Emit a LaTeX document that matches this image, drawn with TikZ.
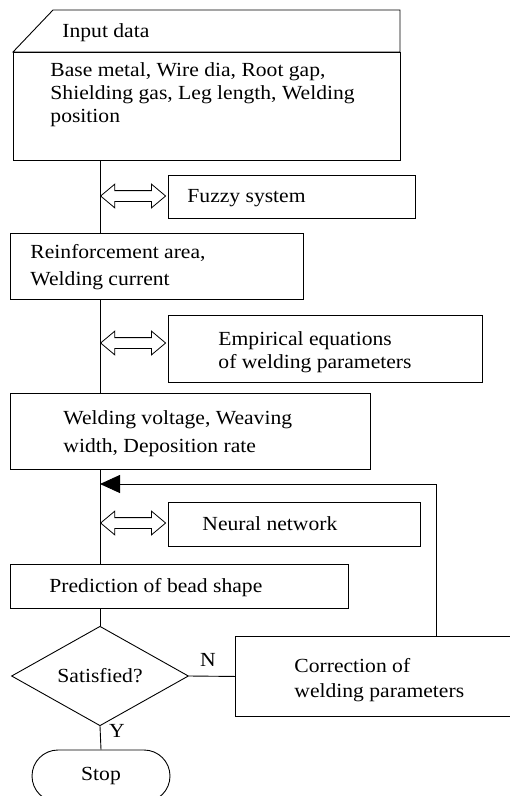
\documentclass[tikz,border=0pt]{standalone}
\usepackage{fontspec}
\setmainfont{Liberation Serif}[FakeStretch=1.08]
\usetikzlibrary{shapes.geometric,shapes.misc,shapes.arrows,arrows.meta}

\begin{document}
\begin{tikzpicture}[x=1pt, y=-1pt, line width=0.9pt,
    font=\fontsize{20}{23}\selectfont,
    box/.style={draw, rectangle, anchor=north west, inner sep=0pt},
    txt/.style={align=left, anchor=base west, inner sep=0pt},
    dbl/.style={draw, double arrow, double arrow tip angle=80,
      double arrow head extend=6.5pt, minimum height=65pt,
      inner xsep=0pt, inner ysep=5pt, anchor=west, line width=0.8pt}]
    \useasboundingbox (0,0) rectangle (510,796);

    % 入力
    \draw (53,10) -- (400,10) -- (400,52) -- (13,52) -- cycle;
    \node[txt] (inhead) at (62,37) {Input data};
    \node[box, minimum width=387pt, minimum height=108pt] (inbody) at (13,52) {};
    \node[txt] (inbodytxt) at (50,122) {Base metal, Wire dia, Root gap,\\Shielding gas, Leg length, Welding\\position};

    % 箱
    \node[box, minimum width=247pt, minimum height=43pt] (fuzzy) at (168,175) {};
    \node[txt] (fuzzytxt) at (187,202) {Fuzzy system};
    \node[box, minimum width=293pt, minimum height=66pt] (reinf) at (10,233) {};
    \node[txt] (reinftxt) at (30,285) {Reinforcement area,\\[4pt]Welding current};
    \node[box, minimum width=314pt, minimum height=67pt] (emp) at (168,315) {};
    \node[txt] (emptxt) at (218,368) {Empirical equations\\of welding parameters};
    \node[box, minimum width=360pt, minimum height=76pt] (volt) at (10,393) {};
    \node[txt] (volttxt) at (63,452) {Welding voltage, Weaving\\[5pt]width, Deposition rate};
    \node[box, minimum width=252pt, minimum height=44pt] (neural) at (168,502) {};
    \node[txt] (neuraltxt) at (202,530) {Neural network};
    \node[box, minimum width=338pt, minimum height=44pt] (pred) at (10,564) {};
    \node[txt] (predtxt) at (49,592) {Prediction of bead shape};
    \node[draw, diamond, minimum width=177pt, minimum height=87pt, inner sep=0pt] (sat) at (100,676) {Satisfied?};
    \node[box, minimum width=280pt, minimum height=80pt] (corr) at (235,636) {};
    \node[txt] (corrtxt) at (294,697) {Correction of\\[2pt]welding parameters};
    \node[draw, rounded rectangle, minimum width=138pt, minimum height=52pt, inner sep=0pt] (stop) at (101,776) {Stop};

    % 両矢印
    \node[dbl] (ar1) at (100,196) {};
    \node[dbl] (ar2) at (100,343) {};
    \node[dbl] (ar3) at (100,523) {};

    % 線を引く
    \draw (inbody.south -| sat) -- (reinf.north -| sat);
    \draw (reinf.south -| sat) -- (volt.north -| sat);
    \draw (volt.south -| sat) -- (pred.north -| sat);
    \draw (pred.south -| sat) -- (sat.north);
    \draw (sat.south) -- (stop.north);
    \draw (sat.east) -- (corr.west);
    \coordinate (fb) at (436,484);
    \draw[-{Triangle[length=20pt,width=18pt]}] (corr.north -| fb) -- (fb) -- (fb -| sat);

    % ラベル
    \node (nlab) at (208,660) {N};
    \node (ylab) at (117,731) {Y};
\end{tikzpicture}
\end{document}
